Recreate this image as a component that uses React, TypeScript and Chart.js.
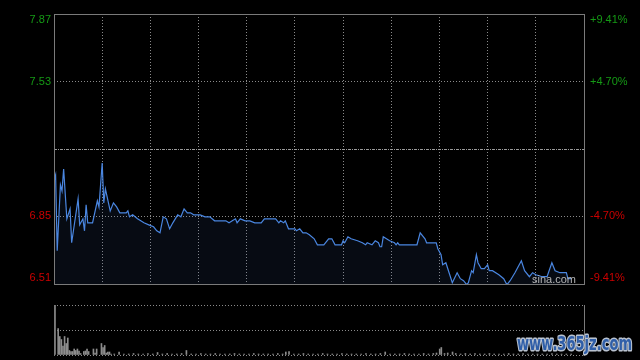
import React, { useEffect, useRef } from "react";
import { Chart, registerables } from "chart.js";

Chart.register(...registerables);

// ---- data ----
const prevClose = 7.19;
const tickPcts = [9.41, 4.7, 0, -4.7, -9.41];
const sessionMinutes = 330;
const gridStepMinutes = 30;

const priceTimes = [
  0, 1, 2, 4, 5, 6, 8, 10, 11, 15, 16, 18, 19, 20, 21, 24, 27, 28, 30, 31, 32, 35, 37, 39, 41, 45, 46, 47, 49, 52,
  56, 59, 62, 64, 66, 68, 70, 72, 74, 77, 79, 81, 83, 85, 87, 91, 94, 97, 100, 107, 109, 111, 113, 114, 116, 119,
  122, 125, 129, 131, 138, 140, 141, 143, 144, 146, 150, 151, 153, 155, 157, 159, 162, 164, 168, 171, 173, 175,
  179, 180, 181, 183, 185, 189, 192, 194, 195, 198, 200, 202, 203, 204, 205, 207, 209, 212, 213, 214, 215, 226,
  228, 231, 232, 238, 239, 241, 242, 244, 246, 248, 251, 253, 255, 257, 258, 260, 261, 263, 264, 266, 268, 270,
  271, 273, 277, 280, 282, 284, 287, 291, 293, 296, 298, 300, 304, 307, 310, 312, 315, 319, 320, 322,
];
const prices = [
  7.03, 7.06, 6.68, 7.01, 6.98, 7.09, 6.84, 6.89, 6.72, 6.94, 6.81, 6.84, 6.78, 6.91, 6.82, 6.82, 6.93, 6.9, 7.12,
  6.92, 6.99, 6.88, 6.92, 6.9, 6.87, 6.87, 6.88, 6.85, 6.86, 6.84, 6.82, 6.81, 6.8, 6.78, 6.77, 6.85, 6.84, 6.79,
  6.82, 6.86, 6.85, 6.89, 6.87, 6.87, 6.86, 6.86, 6.85, 6.85, 6.83, 6.83, 6.82, 6.83, 6.84, 6.82, 6.84, 6.83, 6.83,
  6.82, 6.82, 6.84, 6.84, 6.82, 6.83, 6.82, 6.83, 6.79, 6.79, 6.78, 6.79, 6.77, 6.77, 6.76, 6.74, 6.71, 6.71, 6.74,
  6.74, 6.71, 6.71, 6.73, 6.72, 6.75, 6.74, 6.73, 6.72, 6.71, 6.72, 6.71, 6.73, 6.72, 6.7, 6.7, 6.75, 6.74, 6.73,
  6.72, 6.71, 6.72, 6.71, 6.71, 6.77, 6.74, 6.72, 6.72, 6.69, 6.66, 6.61, 6.62, 6.57, 6.52, 6.57, 6.54, 6.53, 6.51,
  6.52, 6.58, 6.57, 6.66, 6.62, 6.59, 6.59, 6.61, 6.58, 6.58, 6.56, 6.54, 6.51, 6.53, 6.57, 6.63, 6.58, 6.55, 6.57,
  6.56, 6.55, 6.55, 6.62, 6.58, 6.57, 6.57, 6.54, 6.54,
];

const volTimes = [
  0, 2, 3, 4, 5, 6, 7, 8, 9, 10, 11, 12, 13, 14, 15, 16, 18, 19, 20, 21, 24, 25, 26, 29, 30, 31, 32, 33, 34, 35, 37,
  40, 43, 46, 49, 52, 55, 58, 61, 64, 67, 70, 73, 76, 79, 82, 85, 88, 91, 94, 97, 100, 103, 106, 109, 112, 115, 118,
  121, 124, 127, 130, 133, 136, 139, 142, 144, 146, 149, 152, 155, 158, 161, 164, 167, 170, 173, 176, 179, 182, 185,
  188, 191, 194, 197, 200, 203, 206, 209, 212, 215, 218, 221, 224, 227, 230, 233, 236, 238, 240, 241, 243, 245, 248,
  250, 253, 256, 259, 262, 265, 268, 271, 274, 277, 280, 283, 286, 289, 292, 295, 298, 301, 304, 307, 310, 313, 316,
  319, 322,
];
const volumes = [
  100, 53, 37, 31, 18, 37, 23, 34, 9, 7, 7, 12, 9, 12, 8, 3, 7, 8, 12, 7, 12, 4, 12, 23, 15, 19, 4, 6, 6, 2, 2, 6, 2,
  2, 3, 2, 2, 3, 2, 5, 2, 3, 2, 2, 3, 9, 2, 2, 3, 2, 2, 3, 2, 2, 2, 3, 2, 2, 2, 3, 2, 2, 2, 2, 3, 2, 6, 7, 2, 2, 3, 2,
  2, 2, 3, 2, 2, 2, 3, 2, 2, 2, 2, 3, 2, 2, 3, 6, 2, 2, 2, 3, 2, 2, 2, 3, 2, 3, 4, 12, 15, 3, 4, 6, 3, 2, 3, 2, 3, 2,
  2, 3, 2, 2, 2, 3, 2, 2, 3, 2, 2, 2, 2, 2, 3, 2, 2, 2, 2,
];

const UP = "#159a15";
const DOWN = "#cc0000";
const GRID = "#8a8a8a";
const FRAME = "#7a7a7a";
const FONT = '11px "Liberation Sans", Arial, sans-serif';

export default function App() {
  const priceRef = useRef<HTMLCanvasElement>(null);
  const volRef = useRef<HTMLCanvasElement>(null);

  useEffect(() => {
    const maxPct = Math.max(...tickPcts.map((p) => Math.abs(p)));
    const yMin = prevClose * (1 - maxPct / 100);
    const yMax = prevClose * (1 + maxPct / 100);
    const gridTimes: number[] = [];
    for (let t = 0; t <= sessionMinutes; t += gridStepMinutes) gridTimes.push(t);

    const pricePlugin = {
      id: "priceDecor",
      beforeDatasetsDraw(chart: any) {
        const { ctx, chartArea: a, scales } = chart;
        const y = Math.round(scales.y.getPixelForValue(prevClose)) + 0.5;
        ctx.save();
        ctx.strokeStyle = "#9a9a9a";
        ctx.lineWidth = 1;
        ctx.setLineDash([3, 1, 1, 1]);
        ctx.beginPath();
        ctx.moveTo(a.left, y);
        ctx.lineTo(a.right, y);
        ctx.stroke();
        ctx.restore();
      },
      afterDatasetsDraw(chart: any) {
        const { ctx, chartArea: a, scales } = chart;
        ctx.save();
        ctx.strokeStyle = FRAME;
        ctx.lineWidth = 1;
        ctx.strokeRect(a.left + 0.5, a.top + 0.5, a.right - a.left, a.bottom - a.top);
        ctx.font = FONT;
        ctx.textBaseline = "middle";
        tickPcts.forEach((p) => {
          if (p === 0) return;
          const v = prevClose * (1 + p / 100);
          let py = scales.y.getPixelForValue(v);
          py = Math.min(Math.max(py, a.top + 6), a.bottom - 6);
          ctx.fillStyle = p > 0 ? UP : DOWN;
          ctx.textAlign = "right";
          ctx.fillText(v.toFixed(2), 51, py);
          ctx.textAlign = "left";
          ctx.fillText((p > 0 ? "+" : "") + p.toFixed(2) + "%", 590, py);
        });
        ctx.fillStyle = "#b4b4b4";
        ctx.textAlign = "left";
        ctx.fillText("sina.com", 532, a.bottom - 4);
        ctx.restore();
      },
    };

    const hideEdgeX = (c: any) =>
      c.tick && (c.tick.value <= 0 || c.tick.value >= sessionMinutes) ? "rgba(0,0,0,0)" : GRID;
    const hideEdgeY = (c: any) => {
      if (!c.tick) return GRID;
      const v = c.tick.value;
      if (Math.abs(v - prevClose) < 1e-6 || Math.abs(v - yMin) < 1e-6 || Math.abs(v - yMax) < 1e-6)
        return "rgba(0,0,0,0)";
      return GRID;
    };

    const priceChart = new Chart(priceRef.current as HTMLCanvasElement, {
      type: "line",
      data: {
        datasets: [
          {
            data: priceTimes.map((t, i) => ({ x: t, y: prices[i] })),
            borderColor: "#4a86e0",
            borderWidth: 1.2,
            pointRadius: 0,
            tension: 0,
            fill: "start",
            backgroundColor: "rgba(60,100,170,0.11)",
          },
        ],
      },
      options: {
        animation: false,
        responsive: false,
        events: [],
        layout: { padding: { top: 14, bottom: 11, left: 0, right: 56 } },
        plugins: { legend: { display: false }, tooltip: { enabled: false } },
        scales: {
          x: {
            type: "linear",
            min: 0,
            max: sessionMinutes,
            offset: false,
            afterBuildTicks: (s: any) => {
              s.ticks = gridTimes.map((v) => ({ value: v }));
            },
            afterFit: (s: any) => {
              s.height = 0;
            },
            ticks: { display: false },
            grid: { color: hideEdgeX, drawTicks: false, lineWidth: 1 },
            border: { display: false, dash: [1, 2] },
          },
          y: {
            min: yMin,
            max: yMax,
            afterBuildTicks: (s: any) => {
              s.ticks = tickPcts.map((p) => ({ value: prevClose * (1 + p / 100) }));
            },
            afterFit: (s: any) => {
              s.width = 54;
            },
            ticks: { display: false },
            grid: { color: hideEdgeY, drawTicks: false, lineWidth: 1 },
            border: { display: false, dash: [1, 2] },
          },
        },
      } as any,
      plugins: [pricePlugin],
    });

    const volMax = Math.max(...volumes);
    const volPlugin = {
      id: "volDecor",
      afterDatasetsDraw(chart: any) {
        const { ctx, chartArea: a } = chart;
        ctx.save();
        ctx.strokeStyle = FRAME;
        ctx.lineWidth = 1;
        ctx.beginPath();
        ctx.moveTo(a.left + 0.5, a.top);
        ctx.lineTo(a.left + 0.5, a.bottom + 1);
        ctx.moveTo(a.right + 0.5, a.top);
        ctx.lineTo(a.right + 0.5, a.bottom + 1);
        ctx.stroke();
        ctx.restore();
      },
      afterDraw(chart: any) {
        const { ctx } = chart;
        const text = "www.365jz.com";
        ctx.save();
        ctx.font = 'bold 19px "DejaVu Sans", sans-serif';
        const w = ctx.measureText(text).width;
        ctx.translate(517, 50);
        ctx.scale(115 / w, 1);
        ctx.textBaseline = "middle";
        ctx.textAlign = "left";
        ctx.lineJoin = "round";
        ctx.shadowColor = "rgba(0,0,0,0.8)";
        ctx.shadowBlur = 2;
        ctx.shadowOffsetX = 1;
        ctx.shadowOffsetY = 1;
        ctx.strokeStyle = "rgba(205,215,230,0.9)";
        ctx.lineWidth = 3;
        ctx.strokeText(text, 0, 0);
        ctx.shadowColor = "transparent";
        ctx.fillStyle = "#2f5ea8";
        ctx.fillText(text, 0, 0);
        ctx.restore();
      },
    };

    const volChart = new Chart(volRef.current as HTMLCanvasElement, {
      type: "bar",
      data: {
        datasets: [
          {
            data: volTimes.map((t, i) => ({ x: t, y: volumes[i] })),
            backgroundColor: "#8c8c8c",
            barThickness: 1,
            borderWidth: 0,
          },
        ],
      },
      options: {
        animation: false,
        responsive: false,
        events: [],
        layout: { padding: { top: 10, bottom: 5, left: 0, right: 56 } },
        plugins: { legend: { display: false }, tooltip: { enabled: false } },
        scales: {
          x: {
            type: "linear",
            min: -0.6,
            max: sessionMinutes,
            offset: false,
            display: true,
            ticks: { display: false },
            grid: { display: false, drawTicks: false },
            border: { display: false },
            afterFit: (s: any) => {
              s.height = 0;
            },
          },
          y: {
            min: 0,
            max: volMax,
            afterBuildTicks: (s: any) => {
              s.ticks = [0, volMax / 2, volMax].map((v) => ({ value: v }));
            },
            afterFit: (s: any) => {
              s.width = 54;
            },
            ticks: { display: false },
            grid: { color: GRID, drawTicks: false, lineWidth: 1 },
            border: { display: false, dash: [1, 2] },
          },
        },
      } as any,
      plugins: [volPlugin],
    });

    return () => {
      priceChart.destroy();
      volChart.destroy();
    };
  }, []);

  return (
    <div
      style={{
        position: "fixed",
        left: 0,
        top: 0,
        width: 640,
        height: 360,
        background: "#000",
        overflow: "hidden",
      }}
    >
      <canvas
        ref={priceRef}
        width={640}
        height={295}
        style={{ position: "absolute", left: 0, top: 0, width: 640, height: 295 }}
      />
      <canvas
        ref={volRef}
        width={640}
        height={65}
        style={{ position: "absolute", left: 0, top: 295, width: 640, height: 65 }}
      />
    </div>
  );
}
